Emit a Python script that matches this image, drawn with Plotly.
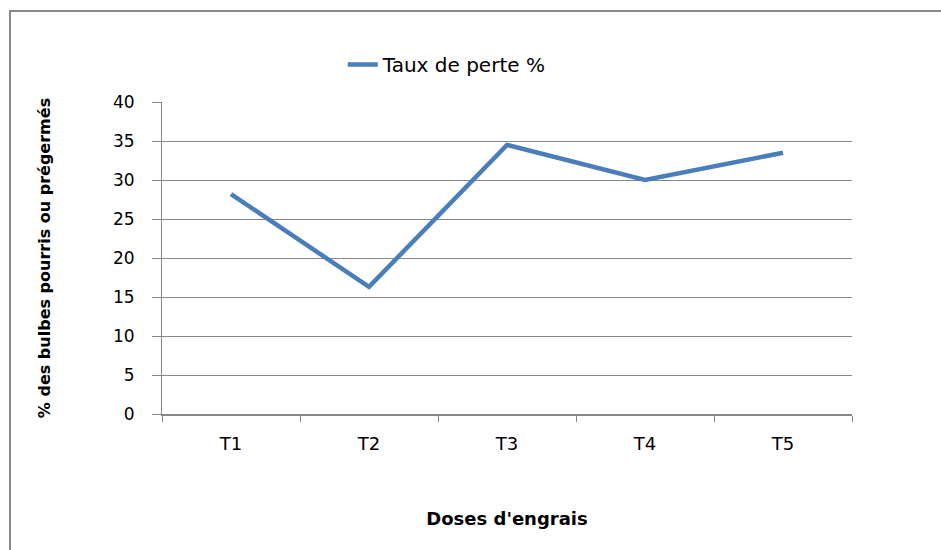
import plotly.graph_objects as go

categories = ["T1", "T2", "T3", "T4", "T5"]
taux_perte = [28.2, 16.3, 34.5, 30.0, 33.5]
y_ticks = [0, 5, 10, 15, 20, 25, 30, 35, 40]

FONT = "DejaVu Sans, Open Sans, sans-serif"

fig = go.Figure()
fig.add_trace(go.Scatter(
    x=categories, y=taux_perte, mode="lines", name="Taux de perte %",
    line=dict(color="#4a7ebb", width=4.5),
))

fig.update_layout(
    width=941, height=550,
    margin=dict(l=162, r=89, t=102, b=136),
    paper_bgcolor="white", plot_bgcolor="white",
    font=dict(family=FONT, color="black", size=17),
    showlegend=True,
    legend=dict(x=0.262, y=1.12, xanchor="left", yanchor="middle",
                orientation="h", font=dict(size=20), bgcolor="rgba(0,0,0,0)"),
    xaxis=dict(
        range=[-0.5, 4.5], showgrid=False, zeroline=False,
        showline=True, linecolor="#868686", linewidth=2,
        ticks="outside", ticklen=6, tickcolor="#868686", tickson="boundaries",
        tickfont=dict(size=18), ticklabelstandoff=12,
        title=dict(text="<b>Doses d'engrais</b>", font=dict(size=18), standoff=60),
    ),
    yaxis=dict(
        range=[0, 40], tickvals=y_ticks, showgrid=True, gridcolor="#868686", gridwidth=1,
        zeroline=False, showline=True, linecolor="#868686", linewidth=1,
        ticks="outside", ticklen=9, tickcolor="#868686",
        tickfont=dict(size=17), ticklabelstandoff=14,
        title=dict(text="<b>% des bulbes pourris ou prégermés</b>",
                   font=dict(size=16), standoff=58),
    ),
    shapes=[dict(type="rect", xref="paper", yref="paper",
                 x0=-0.2203, y0=-1, x1=2, y1=1.2917,
                 line=dict(color="#888888", width=2), layer="below")],
)

fig.write_html("out.html", config={"displayModeBar": False},
               post_script="document.body.style.margin='0';document.body.style.overflow='hidden';")
